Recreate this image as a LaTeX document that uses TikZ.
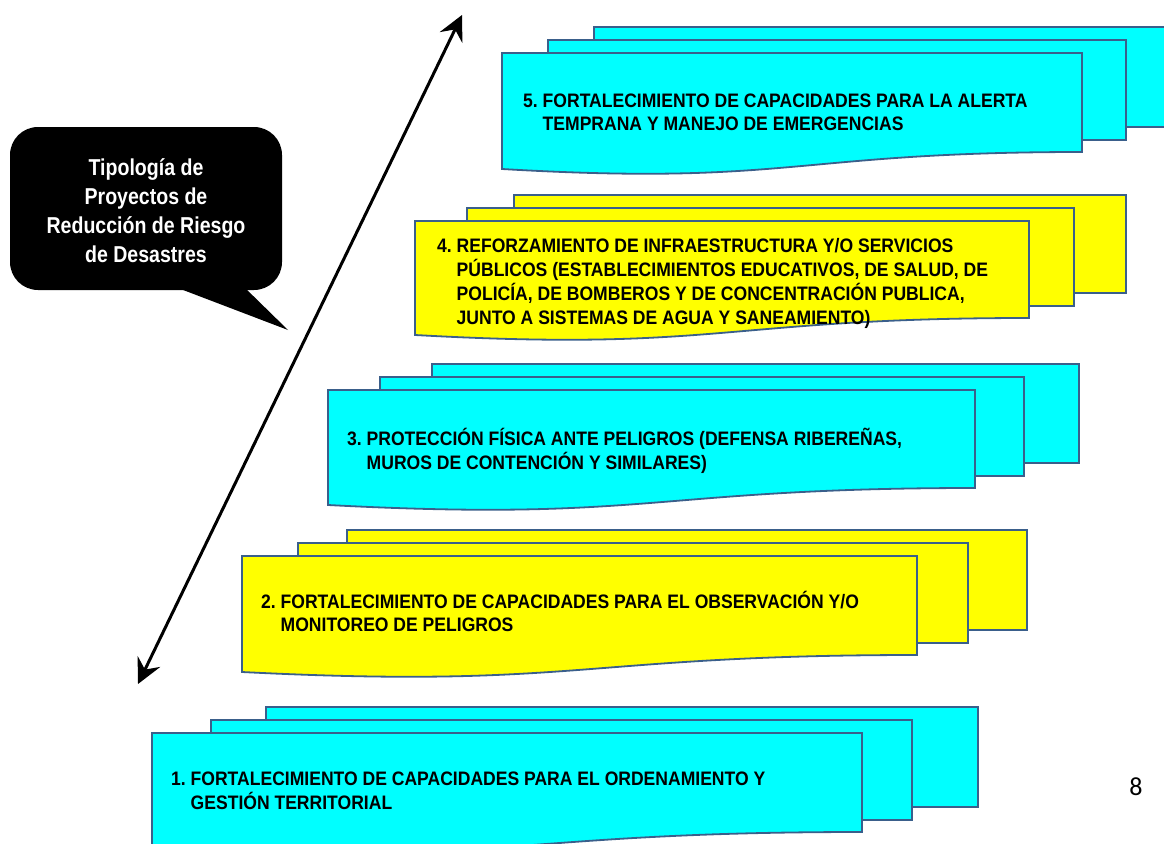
\documentclass[tikz,border=0pt]{standalone}
\usepackage{fontspec}
\setmainfont{Liberation Sans}
\newfontfamily\docfont[FakeStretch=0.9]{Liberation Sans}
\newfontfamily\bubfont[FakeStretch=0.85]{Liberation Sans}
\newfontfamily\pgnfont{Carlito}
\usetikzlibrary{arrows.meta}
\definecolor{docline}{RGB}{58,95,139}
\definecolor{cyanfill}{RGB}{0,255,255}
\definecolor{yellowfill}{RGB}{255,255,0}
\tikzset{
  sheet/.style={draw=docline, line width=1.8pt, line join=miter},
  doctext/.style={inner sep=0pt, anchor=base west, font=\docfont\bfseries\fontsize{19.5}{23}\selectfont},
  bubtext/.style={inner sep=0pt, anchor=base, text=white, font=\bubfont\bfseries\fontsize{23}{29}\selectfont},
  bigarrow/.style={line width=3pt, {Stealth[length=25pt,width=25pt,inset=9pt]}-{Stealth[length=25pt,width=25pt,inset=9pt]}}
}
% #1 fill, #2 front left, #3 front right, #4 front top, #5 front bottom (right)
% #6 middle left, #7 middle right, #8 back left, #9 back right
\newcommand\multidoc[9]{%
  \draw[sheet, fill=#1] (#8,{#4-26}) rectangle (#9,{#5-25});
  \draw[sheet, fill=#1] (#6,{#4-13}) rectangle (#7,{#5-12});
  \draw[sheet, fill=#1] (#2,#4) -- (#3,#4) -- (#3,#5)
     .. controls ({(#2+#3)/2},#5) and ({(#2+#3)/2},{#5+34}) .. (#2,{#5+17}) -- cycle;
}
\begin{document}
\begin{tikzpicture}[x=1pt,y=-1pt]
\useasboundingbox (0,0) rectangle (1164,843);
\clip (0,0) rectangle (1164,843);

% sheets
\multidoc{cyanfill}{502}{1082}{53}{152}{548}{1126}{594}{1170}
\multidoc{yellowfill}{415}{1029}{221}{318}{467}{1074}{514}{1126}
\multidoc{cyanfill}{328}{975}{390}{488}{380}{1024}{432}{1079}
\multidoc{yellowfill}{242}{917}{556}{655}{298}{968}{347}{1027}
\multidoc{cyanfill}{152}{862}{733}{832}{211}{912}{266}{978}

% texts
\node[doctext] (t5) at (523,107) {\begin{tabular}[t]{@{}l@{\ }l@{}}5.&FORTALECIMIENTO DE CAPACIDADES PARA LA ALERTA\\&TEMPRANA Y MANEJO DE EMERGENCIAS\end{tabular}};
\node[doctext, font=\docfont\bfseries\fontsize{19.5}{24}\selectfont] (t4) at (437,252) {\begin{tabular}[t]{@{}l@{\ }l@{}}4.&REFORZAMIENTO DE INFRAESTRUCTURA Y/O SERVICIOS\\&PÚBLICOS (ESTABLECIMIENTOS EDUCATIVOS, DE SALUD, DE\\&POLICÍA, DE BOMBEROS Y DE CONCENTRACIÓN PUBLICA,\\&JUNTO A SISTEMAS DE AGUA Y SANEAMIENTO)\end{tabular}};
\node[doctext] (t3) at (347,445) {\begin{tabular}[t]{@{}l@{\ }l@{}}3.&PROTECCIÓN FÍSICA ANTE PELIGROS (DEFENSA RIBEREÑAS,\\&MUROS DE CONTENCIÓN Y SIMILARES)\end{tabular}};
\node[doctext] (t2) at (261,608) {\begin{tabular}[t]{@{}l@{\ }l@{}}2.&FORTALECIMIENTO DE CAPACIDADES PARA EL OBSERVACIÓN Y/O\\&MONITOREO DE PELIGROS\end{tabular}};
\node[doctext] (t1) at (171,785) {\begin{tabular}[t]{@{}l@{\ }l@{}}1.&FORTALECIMIENTO DE CAPACIDADES PARA EL ORDENAMIENTO Y\\&GESTIÓN TERRITORIAL\end{tabular}};

% callout
\fill[black, rounded corners=28pt] (10,127) rectangle (282,290);
\fill[black] (170,285) -- (288,330) -- (242,285) -- cycle;
\node[bubtext] (bub) at (146,175) {\begin{tabular}[t]{@{}c@{}}Tipología de\\Proyectos de\\Reducción de Riesgo\\de Desastres\end{tabular}};

% double arrow
\coordinate (atop) at (462,15);
\coordinate (abot) at (138,684);
\draw[bigarrow] (abot) -- (atop);

% page number
\node[inner sep=0pt, anchor=base, font=\pgnfont\fontsize{26}{26}\selectfont] (pg) at (1136,795) {8};
\end{tikzpicture}
\end{document}
